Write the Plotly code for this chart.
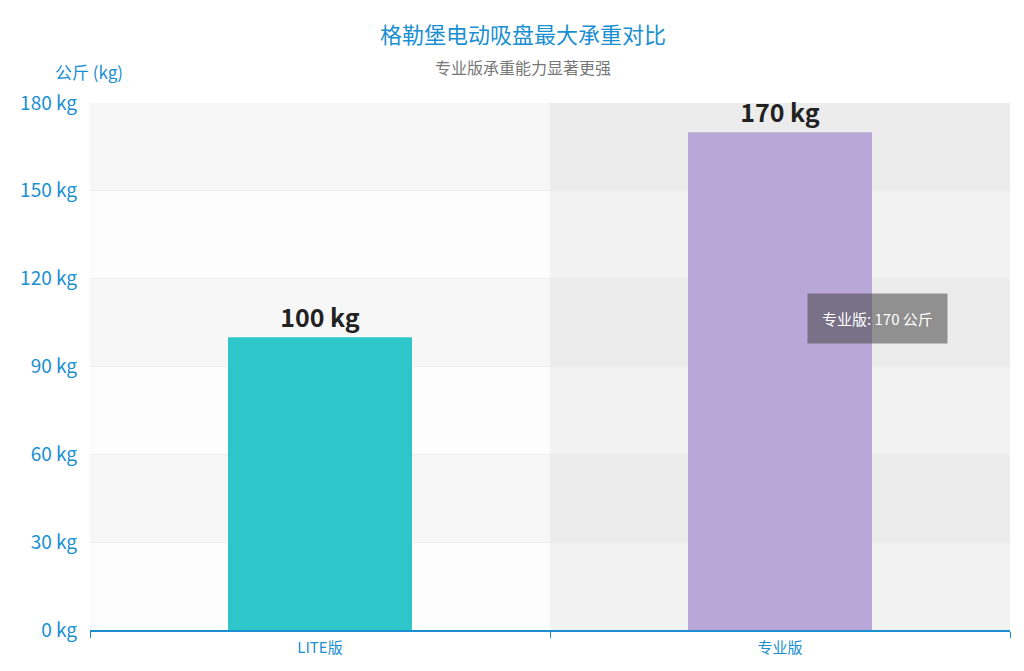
import plotly.graph_objects as go

# data
categories = ['LITE版', '专业版']
max_load_kg = [100, 170]
bar_colors = ['#2ec7c9', '#b9a7d8']
y_ticks = [0, 30, 60, 90, 120, 150, 180]

title_text = '格勒堡电动吸盘最大承重对比'
subtitle_text = '专业版承重能力显著更强'
y_axis_name = '公斤 (kg)'
tooltip_index = 1

FONT = 'Noto Sans CJK SC'
BLUE = '#1a8fd1'

# page body has an 8px margin, so the figure is a bit smaller than the window
OFF = 8
W, H = 1016, 663
L, R, T, B = 82, 14, 95, 41

fig = go.Figure()
fig.add_trace(go.Bar(
    x=categories,
    y=max_load_kg,
    marker=dict(color=bar_colors, line=dict(width=0)),
    width=0.4,
    text=[f'<b>{v} kg</b>' for v in max_load_kg],
    textposition='outside',
    textfont=dict(family=FONT, size=25, color='#222222'),
    cliponaxis=False,
    hoverinfo='skip',
))

# alternating split areas, starting from the bottom band
shapes = []
for i in range(len(y_ticks) - 1):
    shapes.append(dict(
        type='rect', xref='paper', yref='y', layer='below',
        x0=0, x1=1, y0=y_ticks[i], y1=y_ticks[i + 1],
        fillcolor='#fdfdfd' if i % 2 == 0 else '#f7f7f7',
        line=dict(width=0),
    ))
# shadow pointer over the hovered category
shapes.append(dict(
    type='rect', xref='x', yref='paper', layer='below',
    x0=tooltip_index - 0.5, x1=tooltip_index + 0.5, y0=0, y1=1,
    fillcolor='rgba(150,150,150,0.1)', line=dict(width=0),
))

# positions given in window pixels, converted to paper coords below
annotations = [
    dict(text=title_text, x=523, y=33,
         font=dict(family=FONT, size=22, color=BLUE)),
    dict(text=subtitle_text, x=523, y=67,
         font=dict(family=FONT, size=16, color='#777777')),
    dict(text=y_axis_name, x=89, y=72,
         font=dict(family=FONT, size=17, color=BLUE)),
    dict(text=f'{categories[tooltip_index]}: {max_load_kg[tooltip_index]} 公斤',
         x=877, y=318, bgcolor='rgba(70,70,70,0.55)', borderpad=14,
         font=dict(family=FONT, size=15, color='#ffffff')),
]
pw, ph = W - L - R, H - T - B
for a in annotations:
    a['x'] = (a['x'] - OFF - L) / pw
    a['y'] = 1 - (a['y'] - OFF - T) / ph
    a.update(xref='paper', yref='paper', showarrow=False,
             xanchor='center', yanchor='middle')

fig.update_layout(
    width=W, height=H,
    margin=dict(l=L, r=R, t=T, b=B),
    paper_bgcolor='#ffffff',
    plot_bgcolor='#ffffff',
    showlegend=False,
    font=dict(family=FONT, color=BLUE),
    shapes=shapes,
    annotations=annotations,
)
fig.update_xaxes(
    showline=True, linecolor=BLUE, linewidth=1.5,
    ticks='outside', tickson='boundaries', ticklen=6, tickcolor=BLUE,
    tickfont=dict(family=FONT, size=15, color=BLUE),
    ticklabelstandoff=3,
    showgrid=False,
)
fig.update_yaxes(
    range=[0, 180], tickvals=y_ticks, ticktext=[f'{v} kg' for v in y_ticks],
    tickfont=dict(family=FONT, size=19, color=BLUE),
    gridcolor='#ececec', gridwidth=1, zeroline=False,
    showline=False, ticks='', ticklabelstandoff=12,
)

fig.write_html('out.html')
